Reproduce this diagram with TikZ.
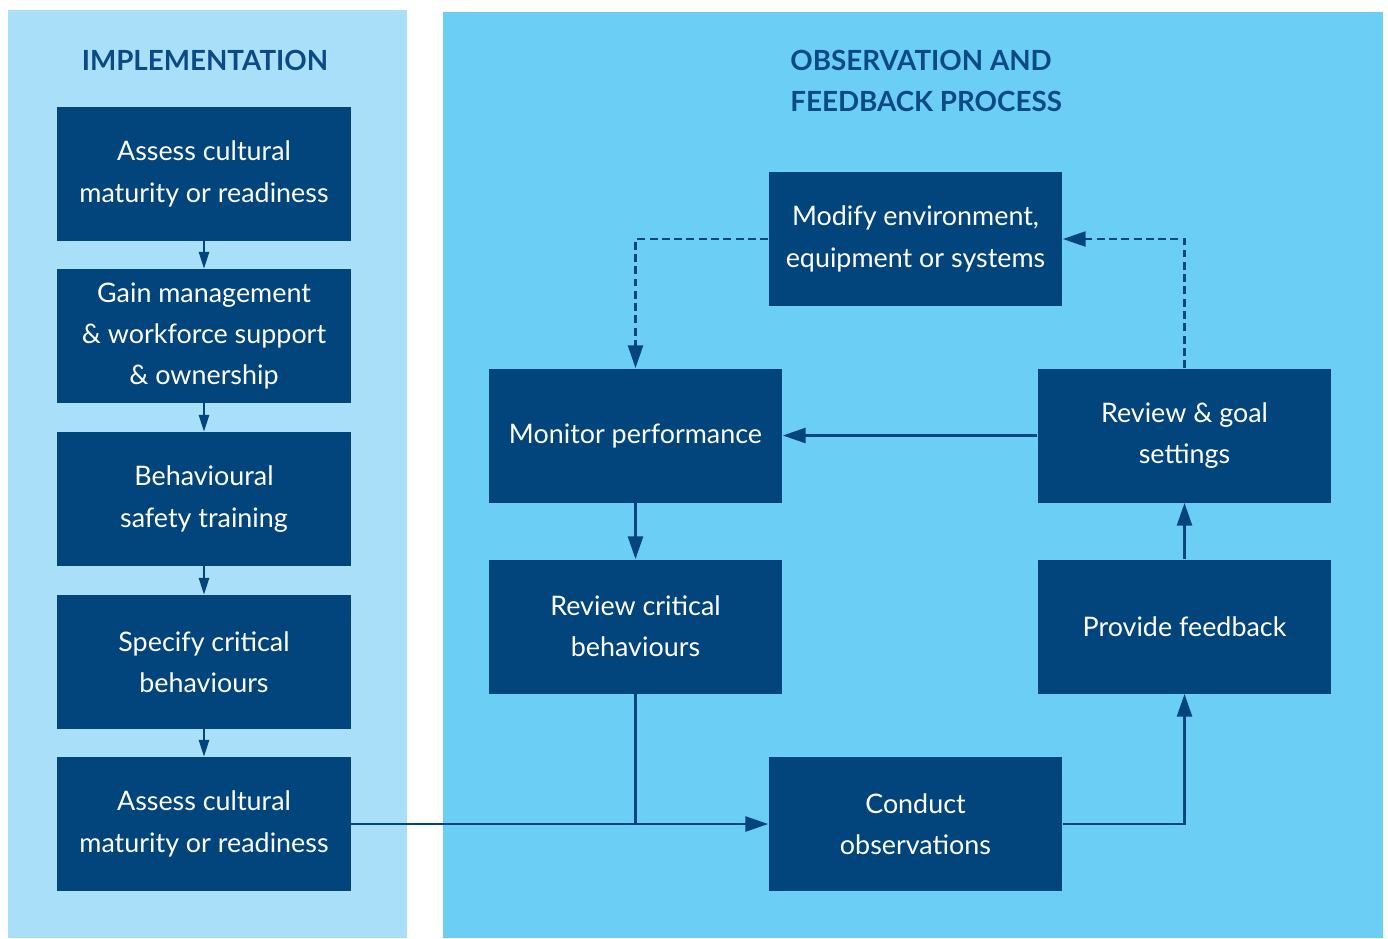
\documentclass[tikz,border=0pt]{standalone}
\usepackage{fontspec}
\setmainfont{Lato}
\usetikzlibrary{arrows.meta}

\definecolor{implbg}{HTML}{AADFF9}
\definecolor{obsbg}{HTML}{6BCEF4}
\definecolor{stepblue}{HTML}{02457C}
\definecolor{headblue}{HTML}{0C4A86}

\tikzset{
    stepbox/.style={fill=stepblue, text=white, minimum width=5.88cm, minimum height=2.68cm,
        inner sep=0pt, align=center, font=\fontsize{15.3}{23.5}\selectfont},
    head/.style={text=headblue, font=\fontsize{15.8}{23.8}\selectfont\bfseries, inner sep=0pt},
    flow/.style={draw=stepblue, line width=1.6pt, -{Triangle[length=13pt, width=8.5pt]}},
    link/.style={draw=stepblue, line width=1.6pt},
    small/.style={draw=stepblue, line width=1.1pt, -{Triangle[length=9.5pt, width=5.8pt]}},
    loopback/.style={flow, line width=1.4pt, dash pattern=on 4.5pt off 2.5pt}
}

\begin{document}
\begin{tikzpicture}[x=0.02cm, y=-0.02cm]
    % Page and the two panels
    \useasboundingbox (0, 0) rectangle (1388, 938);
    \fill[white] (0, 0) rectangle (1388, 938);
    \fill[implbg] (8, 10) rectangle (407, 938);
    \fill[obsbg] (443, 12) rectangle (1383, 938);

    % Headings
    \node[head] (implhead) at (205, 60) {IMPLEMENTATION};
    \node[head, anchor=west, align=left] (obshead) at (790, 81) {OBSERVATION AND\\FEEDBACK PROCESS};

    % Implementation steps
    \node[stepbox] (assess) at (204, 174) {Assess cultural\\maturity or readiness};
    \node[stepbox] (support) at (204, 336) {Gain management\\\& workforce support\\\& ownership};
    \node[stepbox] (training) at (204, 499) {Behavioural\\safety training};
    \node[stepbox] (specify) at (204, 662) {Specify critical\\behaviours};
    \node[stepbox] (reassess) at (204, 824) {Assess cultural\\maturity or readiness};

    % Observation and feedback loop
    \node[stepbox] (modify) at (915.5, 239) {Modify environment,\\equipment or systems};
    \node[stepbox] (monitor) at (635.5, 435.5) {Monitor performance};
    \node[stepbox] (goals) at (1184.5, 435.5) {Review \& goal\\settings};
    \node[stepbox] (critical) at (635.5, 626.5) {Review critical\\behaviours};
    \node[stepbox] (feedback) at (1184.5, 626.5) {Provide feedback};
    \node[stepbox] (observe) at (915.5, 824) {Conduct\\observations};

    % Arrows down the implementation column
    \draw[small] (assess) -- (support);
    \draw[small] (support) -- (training);
    \draw[small] (training) -- (specify);
    \draw[small] (specify) -- (reassess);

    % Main loop
    \draw[flow] (reassess.east) -- (observe.west);
    \draw[link] (critical.south) -- (critical.south |- observe.west);
    \draw[flow] (observe.east) -| (feedback.south);
    \draw[flow] (feedback) -- (goals);
    \draw[flow] (goals) -- (monitor);
    \draw[flow] (monitor) -- (critical);

    % Dashed path through the modify step
    \draw[loopback] (goals.north) |- (modify.east);
    \draw[loopback] (modify.west) -| (monitor.north);
\end{tikzpicture}
\end{document}
